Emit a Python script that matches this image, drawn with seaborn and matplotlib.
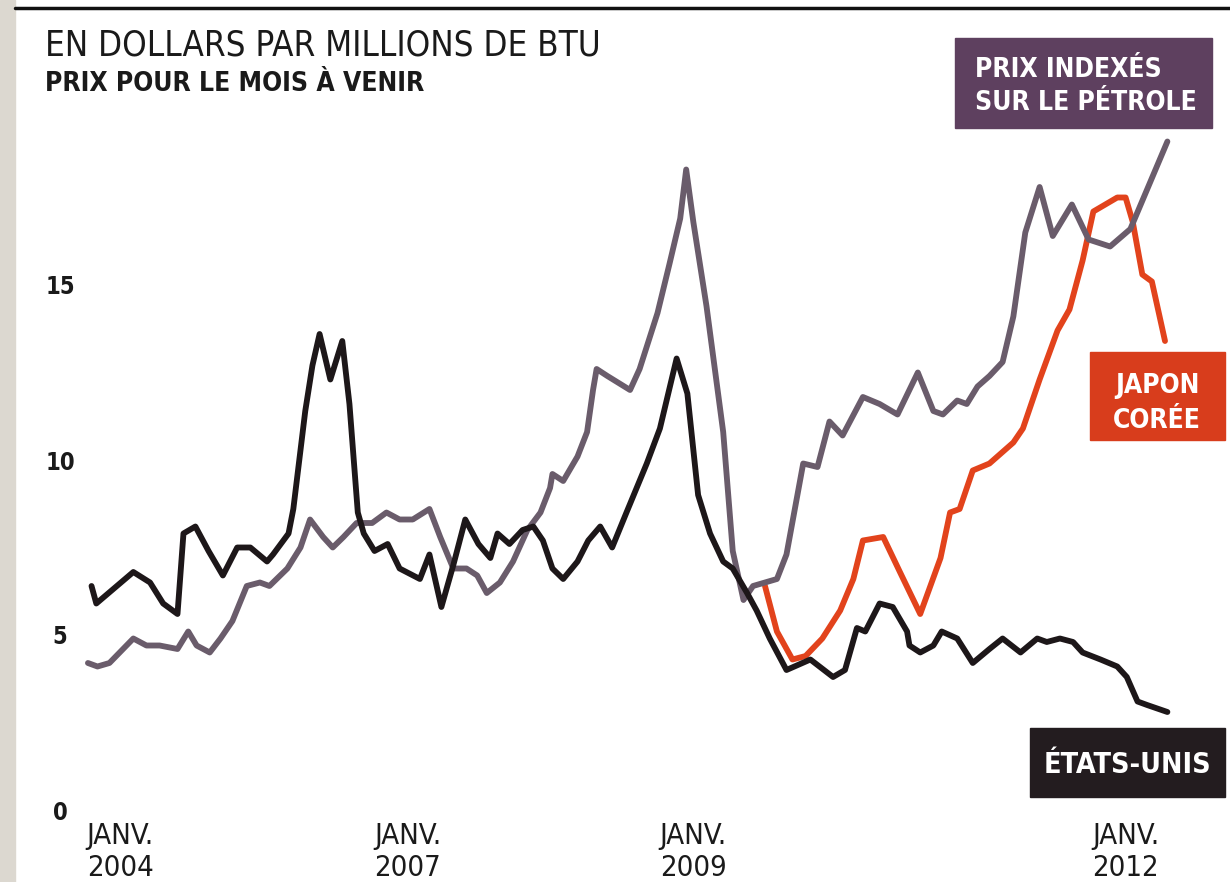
import matplotlib
matplotlib.use("Agg")
import matplotlib.pyplot as plt
import seaborn as sns
import pandas as pd
from matplotlib import font_manager
from matplotlib.patches import Rectangle
from matplotlib.lines import Line2D

# ---------------- data (month index, price in $/MBtu) ----------------
us_month = [0.3, 0.7, 3.8, 5.2, 6.3, 7.5, 8.0, 9.0, 10.1, 11.3, 12.5, 13.6, 15.0, 15.5,
            16.8, 17.2, 18.2, 18.8, 19.4, 20.3, 21.3, 21.9, 22.6, 23.1, 24.0, 25.1, 26.1,
            27.8, 28.6, 29.6, 30.6, 31.6, 32.7, 33.7, 34.3, 35.3, 36.4, 37.3, 38.1, 38.9,
            39.8, 41.0, 41.9, 42.9, 43.9, 45.1, 46.8, 47.9, 49.3, 50.2, 51.1, 52.1, 53.2,
            54.0, 55.2, 56.0, 57.1, 58.5, 60.5, 62.4, 63.4, 64.4, 65.1, 66.3, 67.4, 68.6,
            68.8, 69.7, 70.8, 71.5, 72.8, 74.1, 75.5, 76.6, 78.1, 79.5, 80.3, 81.4, 82.5,
            83.3, 84.8, 86.2, 87.0, 87.9, 88.7, 90.4]
us_price = [6.4, 5.9, 6.8, 6.5, 5.9, 5.6, 7.9, 8.1, 7.4, 6.7, 7.5, 7.5, 7.1, 7.3,
            7.9, 8.6, 11.4, 12.7, 13.6, 12.3, 13.4, 11.6, 8.5, 7.9, 7.4, 7.6, 6.9,
            6.6, 7.3, 5.8, 7.0, 8.3, 7.6, 7.2, 7.9, 7.6, 8.0, 8.1, 7.7, 6.9,
            6.6, 7.1, 7.7, 8.1, 7.5, 8.5, 9.9, 10.9, 12.9, 11.9, 9.0, 7.9, 7.1,
            6.9, 6.2, 5.7, 4.9, 4.0, 4.3, 3.8, 4.0, 5.2, 5.1, 5.9, 5.8, 5.1,
            4.7, 4.5, 4.7, 5.1, 4.9, 4.2, 4.6, 4.9, 4.5, 4.9, 4.8, 4.9, 4.8,
            4.5, 4.3, 4.1, 3.8, 3.1, 3.0, 2.8]

oil_month = [0.0, 0.8, 1.8, 3.8, 4.9, 6.0, 7.5, 8.4, 9.1, 10.2, 11.1, 12.1, 13.3, 14.4,
             15.2, 16.7, 17.8, 18.6, 19.7, 20.5, 21.4, 22.5, 23.8, 25.0, 26.1, 27.2, 28.6,
             29.5, 30.6, 31.7, 32.6, 33.4, 34.5, 35.6, 36.8, 37.9, 38.7, 38.9, 39.8, 41.0,
             41.8, 42.3, 42.6, 43.5, 45.4, 46.2, 47.7, 48.7, 49.6, 50.1, 50.7, 51.8, 53.2,
             54.0, 54.9, 55.7, 57.7, 58.5, 59.9, 61.1, 62.1, 63.2, 64.9, 66.3, 67.8, 69.5,
             70.8, 71.6, 72.8, 73.6, 74.5, 75.5, 76.6, 77.5, 78.5, 79.7, 80.8, 82.4, 83.8,
             85.6, 87.3, 90.4]
oil_price = [4.2, 4.1, 4.2, 4.9, 4.7, 4.7, 4.6, 5.1, 4.7, 4.5, 4.9, 5.4, 6.4, 6.5,
             6.4, 6.9, 7.5, 8.3, 7.8, 7.5, 7.8, 8.2, 8.2, 8.5, 8.3, 8.3, 8.6,
             7.8, 6.9, 6.9, 6.7, 6.2, 6.5, 7.1, 8.0, 8.5, 9.2, 9.6, 9.4, 10.1,
             10.8, 12.0, 12.6, 12.4, 12.0, 12.6, 14.2, 15.6, 16.9, 18.3, 16.8, 14.4, 10.8,
             7.4, 6.0, 6.4, 6.6, 7.3, 9.9, 9.8, 11.1, 10.7, 11.8, 11.6, 11.3, 12.5,
             11.4, 11.3, 11.7, 11.6, 12.1, 12.4, 12.8, 14.1, 16.5, 17.8, 16.4, 17.3, 16.3,
             16.1, 16.6, 19.1]

jk_month = [56.7, 57.7, 59.0, 60.1, 61.5, 63.0, 64.1, 64.9, 66.6, 68.0, 69.7, 71.4, 72.2,
            73.0, 74.1, 75.5, 77.5, 78.3, 79.7, 81.2, 82.2, 83.3, 84.2, 86.2, 86.9, 87.5,
            88.3, 89.1, 90.2]
jk_price = [6.4, 5.1, 4.3, 4.4, 4.9, 5.7, 6.6, 7.7, 7.8, 6.8, 5.6, 7.2, 8.5,
            8.6, 9.7, 9.9, 10.5, 10.9, 12.3, 13.7, 14.3, 15.7, 17.1, 17.5, 17.5, 16.8,
            15.3, 15.1, 13.4]

x_tick_labels = ["JANV.\n2004", "JANV.\n2007", "JANV.\n2009", "JANV.\n2012"]
x_tick_months = [2.7, 26.8, 50.7, 86.9]
y_ticks = [0, 5, 10, 15]

# ---------------- style ----------------
sns.set_theme(style="white")
names = {f.name for f in font_manager.fontManager.ttflist}
if "Liberation Sans Narrow" in names:
    FONT, STRETCH = "Liberation Sans Narrow", "normal"
else:
    FONT, STRETCH = "DejaVu Sans", "condensed"
plt.rcParams["font.family"] = [FONT, "DejaVu Sans"]
plt.rcParams["font.stretch"] = STRETCH

W, H = 1230, 882
fig = plt.figure(figsize=(W / 100, H / 100), dpi=100)
fig.patch.set_facecolor("white")


def fx(px):
    return px / W


def fy(py):
    return 1 - py / H


ax = fig.add_axes([fx(76), fy(810), (1186.5 - 76) / W, 735 / H])
ax.set_facecolor("none")

BLACK = "#1d1719"
GREY = "#6a5c6b"
ORANGE = "#e2431c"

df_oil = pd.DataFrame({"mois": oil_month, "prix": oil_price})
df_us = pd.DataFrame({"mois": us_month, "prix": us_price})
df_jk = pd.DataFrame({"mois": jk_month, "prix": jk_price})

sns.lineplot(data=df_jk, x="mois", y="prix", ax=ax, color=ORANGE, lw=4.2,
             estimator=None, zorder=2)
sns.lineplot(data=df_oil, x="mois", y="prix", ax=ax, color=GREY, lw=4.2,
             estimator=None, zorder=3)
sns.lineplot(data=df_us, x="mois", y="prix", ax=ax, color=BLACK, lw=4.2,
             estimator=None, zorder=4)

ax.set_xlim(-1, 92)
ax.set_ylim(0, 21)
for s in ax.spines.values():
    s.set_visible(False)
ax.set_xlabel("")
ax.set_ylabel("")
ax.set_yticks(y_ticks)
ax.set_yticklabels([str(v) for v in y_ticks], ha="center", fontsize=17,
                   fontweight="bold", color="#1a1a1a")
ax.tick_params(axis="y", length=0, pad=11.5)
ax.set_xticks(x_tick_months)
ax.set_xticklabels(x_tick_labels, fontsize=21, color="#1a1a1a", linespacing=1.15)
ax.tick_params(axis="x", length=0, pad=9)
ax.grid(False)

# ---------------- decorations ----------------
fig.add_artist(Rectangle((0, 0), fx(15), 1, transform=fig.transFigure,
                         color="#dcd8d0", zorder=0))
fig.add_artist(Line2D([fx(15), 1], [fy(8), fy(8)], transform=fig.transFigure,
                      color="#111111", lw=2.5))

fig.text(fx(45), fy(56), "EN DOLLARS PAR MILLIONS DE BTU", fontsize=25,
         color="#1a1a1a", va="baseline", ha="left")
fig.text(fx(45), fy(91), "PRIX POUR LE MOIS À VENIR", fontsize=19,
         fontweight="bold", color="#1a1a1a", va="baseline", ha="left")


def box(x0, y0, x1, y1, color):
    fig.add_artist(Rectangle((fx(x0), fy(y1)), fx(x1 - x0), (y1 - y0) / H,
                             transform=fig.transFigure, color=color, zorder=5))


box(955, 38, 1212, 128, "#5e405f")
fig.text(fx(975), fy(77), "PRIX INDEXÉS", fontsize=19, fontweight="bold",
         color="white", va="baseline", ha="left", zorder=6)
fig.text(fx(975), fy(110), "SUR LE PÉTROLE", fontsize=19, fontweight="bold",
         color="white", va="baseline", ha="left", zorder=6)

box(1090, 352, 1225, 440, "#d83d1c")
fig.text(fx(1157), fy(393), "JAPON", fontsize=19, fontweight="bold",
         color="white", va="baseline", ha="center", zorder=6)
fig.text(fx(1157), fy(428), "CORÉE", fontsize=19, fontweight="bold",
         color="white", va="baseline", ha="center", zorder=6)

box(1030, 728, 1225, 797, "#231c1f")
fig.text(fx(1127), fy(773), "ÉTATS-UNIS", fontsize=20.5, fontweight="bold",
         color="white", va="baseline", ha="center", zorder=6)

fig.savefig("out.png", dpi=100)
